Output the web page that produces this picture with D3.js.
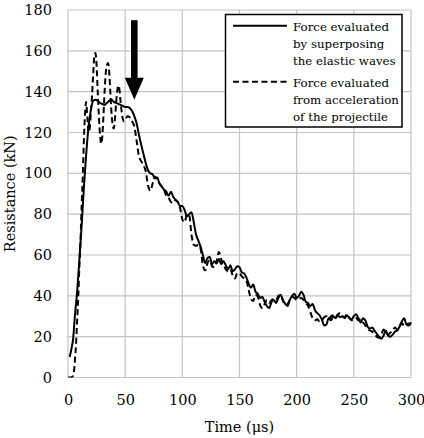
<!DOCTYPE html>
<html><head><meta charset="utf-8">
<script src="https://cdn.jsdelivr.net/npm/d3@7"></script>
<style>html,body{margin:0;padding:0;background:#fff;} svg{display:block;} svg text{font-family:"DejaVu Serif",serif;}</style>
</head><body>
<svg id="chart" width="424" height="438"></svg>
<script>
// ---- data ----
const solidTime = [1.5,3,4.5,6,8,10,12,14,16,18,20,22,24,26,28,30,32,34,36,38,40,42,44,46,48,50,52,54,56,58,60,62,64,66,68,70,72,74,76,78,80,82,84,86,88,90,92,94,96,98,100,102,104,106,108,110,112,114,116,118,120,122,124,126,128,130,132,134,136,138,140,142,144,146,148,150,152,154,156,158,160,162,164,166,168,170,172,174,176,178,180,182,184,186,188,190,192,194,196,198,200,202,204,206,208,210,212,214,216,218,220,222,224,226,228,230,232,234,236,238,240,242,244,246,248,250,252,254,256,258,260,262,264,266,268,270,272,274,276,278,280,282,284,286,288,290,292,294,296,298,300];
const solidForce = [10,14,19,30,42,58,75,94,110,123,131,135.5,136,135.5,134.5,134,133.5,134.5,135.5,136,135,134.5,134,133.5,133,132.5,132.5,132,130.5,128,124.5,119,114,109.5,105,101.5,100,99.5,97.5,98,95,93.5,92,91,89,91,88.5,87,86,84,84,82,79,80,81,76,70,67,64,60,56,58.5,59,55.5,57,56,58,55.5,57,55,53,55,52,53,54.5,54,51.5,51,49,46,44,45.5,42,41,39,39.5,37,35,34,37,38,36.5,39,40.5,38,36,35,38,40,41,39,40,42,40.5,37,36.5,35,36,33,31.5,30.5,28.5,25.5,26,29,28,30,29,30.5,29.5,30,29,30.5,29,28.5,30,31,29,27,29,28,25,24,24.5,23,21.5,20,19,20.5,23,20.5,20,21,22.5,23,25,27.5,29,26,25.5,27];
const dashedTime = [0,2,4,5,6,7,8,9,10,11,12,13,14,15,15.8,17,18,19,20,21,22,23,24,25,26,27,28,29,30,31,32,33,34,35,36,37,38,39,40,41,42,43,44,45,46,47,48,49,50,52,54,56,58,60,62,64,66,68,70,72,74,76,78,80,82,84,86,88,90,92,94,96,98,100,102,104,106,108,110,112,114,116,118,120,122,124,126,128,130,132,134,136,138,140,142,144,146,148,150,152,154,156,158,160,162,164,166,168,170,172,174,176,178,180,182,184,186,188,190,192,194,196,198,200,202,204,206,208,210,212,214,216,218,220,222,224,226,228,230,232,234,236,238,240,242,244,246,248,250,252,254,256,258,260,262,264,266,268,270,272,274,276,278,280,282,284,286,288,290,292,294,296,298,300];
const dashedForce = [0,0,0.5,2,8,16,28,40,55,68,85,100,118,130,135,127,120,122,130,138,148,157,159,153,140,128,119,114.5,118,128,140,149,153,154,150,140,130,124,122,126,134,140,143,141,135,130,126.5,125.5,126,128,127.5,125.5,123,116,108.5,106,104,101,94,91.5,95,98.5,97,95,93.5,92,89,88,86,85.5,87,86,83,77.5,76,80,79.5,70,65,64.5,65,63,55,52.5,56,57.5,54.5,54,57,61.5,58,55.5,53,52,53,50,48.5,51,51,49.5,48.5,47.5,43,38.5,37.5,40.5,39.5,35.5,34,36,38,36.5,38,38.5,38,40,40.5,37.5,35.5,36,38,39.5,39,38,38.5,39,38,36.5,35,32,29,28,28.5,27.5,28,29.5,30,28.5,30,30.5,29.5,31,31.5,30,29.5,31,29.5,28,28,29,28,28.5,27,25.5,24,23,22.5,21.5,20,19.5,21,23.5,22,21,22,23,24.5,23.5,25,26.5,25.5,26,26.5,26];
const xTicks = [0,50,100,150,200,250,300];
const yTicks = [0,20,40,60,80,100,120,140,160,180];
const legendSolid = ["Force evaluated","by superposing","the elastic waves"];
const legendDashed = ["Force evaluated","from acceleration","of the projectile"];
const arrowTime = 58, arrowTop = 175, arrowTip = 136;

// ---- layout ----
const L = 68, R = 411, T = 10, B = 377.5;
const svg = d3.select("#chart");
const x = d3.scaleLinear().domain([0,300]).range([L,R]);
const y = d3.scaleLinear().domain([0,180]).range([B,T]);

svg.append("g").selectAll("line").data(xTicks).join("line")
  .attr("x1", d=>x(d)).attr("x2", d=>x(d)).attr("y1", T).attr("y2", B)
  .attr("stroke", "#c4c4c4").attr("stroke-width", 1.2);
svg.append("g").selectAll("line").data(yTicks).join("line")
  .attr("x1", L).attr("x2", R).attr("y1", d=>y(d)).attr("y2", d=>y(d))
  .attr("stroke", "#c4c4c4").attr("stroke-width", 1.2);

const xAxis = svg.append("g").attr("transform", `translate(0,${B})`)
  .call(d3.axisBottom(x).tickValues(xTicks).tickSize(0).tickPadding(17));
const yAxis = svg.append("g").attr("transform", `translate(${L},0)`)
  .call(d3.axisLeft(y).tickValues(yTicks).tickSize(0).tickPadding(16));
[xAxis, yAxis].forEach(a => {
  a.attr("font-family", null);
  a.select(".domain").remove();
  a.selectAll("text").attr("font-size", 14.5).attr("fill", "#000");
});

svg.append("clipPath").attr("id","clip").append("rect")
  .attr("x", L).attr("y", T-5).attr("width", R-L+2).attr("height", B-T+5);

const line = d3.line().x(d=>x(d[0])).y(d=>y(d[1])).curve(d3.curveMonotoneX);
const solidData = solidTime.map((t,i)=>[t, solidForce[i]]);
const dashedData = dashedTime.map((t,i)=>[t, dashedForce[i]]);

svg.append("path").datum(dashedData).attr("clip-path","url(#clip)")
  .attr("d", line).attr("fill","none").attr("stroke","#000")
  .attr("stroke-width", 2).attr("stroke-dasharray","6,3.5");
svg.append("path").datum(solidData).attr("clip-path","url(#clip)")
  .attr("d", line).attr("fill","none").attr("stroke","#000")
  .attr("stroke-width", 2);

const ax = x(arrowTime), hb = y(arrowTip) - 22;
svg.append("rect").attr("x", ax-3.3).attr("y", y(arrowTop)).attr("width", 6.6).attr("height", hb - y(arrowTop) + 1).attr("fill","#000");
svg.append("path").attr("d", `M${ax-9.5},${hb} L${ax+9.5},${hb} L${ax},${y(arrowTip)} Z`).attr("fill","#000");

const lg = svg.append("g");
lg.append("rect").attr("x", 225.5).attr("y", 14.5).attr("width", 176.5).attr("height", 112.5)
  .attr("fill","#fff").attr("stroke","#000").attr("stroke-width", 1.5);
lg.append("line").attr("x1", 233).attr("x2", 287).attr("y1", 25.7).attr("y2", 25.7)
  .attr("stroke","#000").attr("stroke-width", 2);
lg.append("line").attr("x1", 233).attr("x2", 287).attr("y1", 81.7).attr("y2", 81.7)
  .attr("stroke","#000").attr("stroke-width", 2).attr("stroke-dasharray","6,3.5");
const lt = legendSolid.concat(legendDashed);
lg.selectAll("text").data(lt).join("text")
  .attr("x", 293).attr("y", (d,i)=> 30.5 + i*17.2 + (i>=3 ? 4.5 : 0))
  .attr("font-size", 11.8).attr("fill","#000").text(d=>d);

svg.append("text").attr("x", (L+R)/2).attr("y", 432).attr("text-anchor","middle")
  .attr("font-size", 14.5).text("Time (μs)");
svg.append("text").attr("transform", `translate(15,${(T+B)/2}) rotate(-90)`).attr("text-anchor","middle")
  .attr("font-size", 14.5).text("Resistance (kN)");
</script>
</body></html>
